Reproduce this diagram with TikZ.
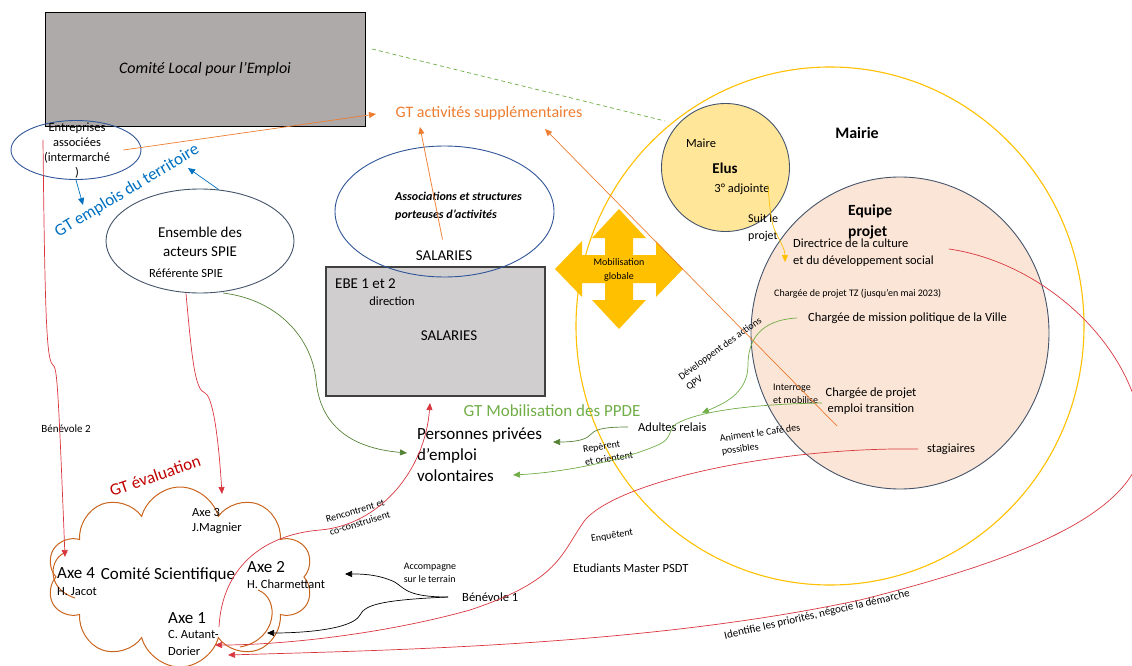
\documentclass[tikz,border=0pt]{standalone}
\usepackage{fontspec}
\setmainfont{Carlito}
\usetikzlibrary{shapes.geometric,shapes.symbols,arrows.meta}

\definecolor{griscle}{HTML}{AEAAAA}
\definecolor{grisebe}{HTML}{D0CECE}
\definecolor{grisfonce}{HTML}{404040}
\definecolor{bleuell}{HTML}{2F5597}
\definecolor{ardoise}{HTML}{44546A}
\definecolor{bleugt}{HTML}{0070C0}
\definecolor{orgt}{HTML}{ED7D31}
\definecolor{vert}{HTML}{70AD47}
\definecolor{vertfonce}{HTML}{548235}
\definecolor{jaune}{HTML}{FFC000}
\definecolor{elusfond}{HTML}{FFE699}
\definecolor{equipefond}{HTML}{FBE5D6}
\definecolor{rouge}{HTML}{D9363E}
\definecolor{rougefonce}{HTML}{C00000}
\definecolor{nuage}{HTML}{C9651E}

\begin{document}
\begin{tikzpicture}[x=1pt,y=-1pt,inner sep=0pt,
    >={Triangle[length=7pt,width=6pt]},
    lien/.style={line width=0.7pt},
    f17/.style={font=\fontsize{17}{21}\selectfont},
    f16/.style={font=\fontsize{16}{19}\selectfont},
    f15/.style={font=\fontsize{15}{19}\selectfont},
    f12/.style={font=\fontsize{12.5}{16}\selectfont},
    f11/.style={font=\fontsize{11}{13.5}\selectfont},
    f10/.style={font=\fontsize{10}{13}\selectfont}]
          %\draw[very thin,lightgray] (0,0) grid (1132,666);
          \useasboundingbox (0,0) rectangle (1132,666);

          % Mairie et ses cercles
          \node[ellipse,draw=jaune,line width=1.1pt,minimum width=508pt,minimum height=518pt] (mairie) at (830,326) {};
          \node[ellipse,draw=ardoise,fill=equipefond,line width=0.9pt,minimum width=298pt,minimum height=312pt] (equipe) at (900,333) {};
          \node[circle,draw=ardoise,fill=elusfond,line width=0.9pt,minimum size=128pt] (elus) at (725.5,167.5) {};
          \node[f16] (mairietxt) at (857,133) {\bfseries Mairie};

          % boites et ellipses a gauche
          \node[draw=black,fill=griscle,line width=0.9pt,minimum width=320pt,minimum height=114pt,
            font=\fontsize{16}{19}\selectfont\itshape] (cle) at (205,69) {Comité Local pour l’Emploi};
          \node[draw=grisfonce,fill=grisebe,line width=1.1pt,minimum width=219pt,minimum height=129pt] (ebe) at (435.5,331.5) {};
          \node[ellipse,draw=bleuell,line width=0.9pt,minimum width=130pt,minimum height=59pt] (ent) at (76,150) {};
          \node[ellipse,draw=ardoise,line width=0.9pt,minimum width=188pt,minimum height=104pt] (ens) at (200,241) {};
          \node[ellipse,draw=bleuell,line width=0.9pt,minimum width=219pt,minimum height=131pt] (asso) at (444.5,211.5) {};

          % fleche Mobilisation globale
          \fill[jaune,shift={(619,269)}] (0,-60)--(27,-31)--(14,-31)--(14,-14)--(37,-14)--(37,-28)--(64,0)
            --(37,28)--(37,14)--(14,14)--(14,31)--(27,31)--(0,60)--(-27,31)--(-14,31)--(-14,14)
            --(-37,14)--(-37,28)--(-64,0)--(-37,-28)--(-37,-14)--(-14,-14)--(-14,-31)--(-27,-31)--cycle;
          \node[font=\fontsize{10}{14}\selectfont,align=center] (mobtxt) at (619,270) {Mobilisation\\globale};

          % Comite scientifique
          \node[cloud,draw=nuage,line width=1pt,cloud puffs=10,aspect=1.5,
            minimum width=266pt,minimum height=180pt] (cs) at (180,577) {};
          \draw[nuage,line width=1pt] (67,552) .. controls (50,556) and (44,588) .. (75,598);
          \draw[nuage,line width=1pt] (258,590) .. controls (280,598) and (278,640) .. (240,647);
          \node[f17] (cstxt) at (168,575) {Comité Scientifique};
          \node[f17,anchor=west] (axe4) at (57,573) {Axe 4};
          \node[f12,anchor=west] (jacot) at (57,592) {H. Jacot};
          \node[f12,anchor=west] (axe3) at (192,512) {Axe 3};
          \node[f12,anchor=west] (magnier) at (192,528) {J.Magnier};
          \node[f17,anchor=west] (axe2) at (247,567) {Axe 2};
          \node[f12,anchor=west] (charm) at (247,584) {H. Charmettant};
          \node[f17,anchor=west] (axe1) at (168,618) {Axe 1};
          \node[f12,anchor=west,align=left,font=\fontsize{12.5}{17}\selectfont] (autant) at (168,643) {C. Autant-\\Dorier};
          \node[f17,text=rougefonce,rotate=19] (gteval) at (155,476) {GT évaluation};

          % textes
          \node[f12,align=center,font=\fontsize{12.5}{15}\selectfont] (enttxt) at (77,151) {Entreprises\\associées\\(intermarché\\)};
          \node[f17,text=bleugt,rotate=31] (gtemp) at (127,191) {GT emplois du territoire};
          \node[f16,text=orgt] (gtact) at (489,113) {GT activités supplémentaires};
          \node[f15,align=center] (enstxt) at (200,242) {Ensemble des\\acteurs SPIE};
          \node[f12] (referente) at (186,273) {Référente SPIE};
          \node[font=\fontsize{12}{18}\selectfont\bfseries\itshape,align=left,anchor=west] (assotxt) at (395,206)
            {Associations et structures\\porteuses d’activités};
          \node[f15] (salasso) at (444,256) {SALARIES};
          \node[f15,anchor=west] (ebetxt) at (335,284) {EBE 1 et 2};
          \node[f12] (direction) at (392,301) {direction};
          \node[f15] (salebe) at (449,336) {SALARIES};
          \node[f17,text=vert] (gtppde) at (552,411) {GT Mobilisation des PPDE};
          \node[f17,align=left,anchor=west] (pers) at (417,455) {Personnes privées\\d’emploi\\volontaires};
          \node[f12] (maire) at (701,143) {Maire};
          \node[font=\fontsize{15}{18}\selectfont\bfseries] (elustxt) at (725,168) {Elus};
          \node[f12] (adjointe) at (742,189) {3° adjointe};
          \node[font=\fontsize{12}{17}\selectfont,align=left,anchor=west] (suit) at (748,228) {Suit le\\projet};
          \node[font=\fontsize{15.5}{21}\selectfont\bfseries,align=left,anchor=west] (equipetxt) at (848,222) {Equipe\\projet};
          \node[font=\fontsize{12.5}{17}\selectfont,align=left,anchor=west] (directrice) at (793,253)
            {Directrice de la culture\\et du développement social};
          \node[f10,anchor=west] (tz) at (774,294) {Chargée de projet TZ (jusqu’en mai 2023)};
          \node[f12,anchor=west] (mission) at (808,318) {Chargée de mission politique de la Ville};
          \node[f12,align=center] (cpet) at (871,401) {Chargée de projet\\emploi transition};
          \node[f10,align=left,anchor=west] (interroge) at (773,394) {Interroge\\et mobilise};
          \node[f12,anchor=west] (stag) at (927,449) {stagiaires};
          \node[f12,anchor=west] (adultes) at (638,427) {Adultes relais};
          \node[f12,anchor=west] (etud) at (573,568) {Etudiants Master PSDT};
          \node[f12,anchor=west] (ben1) at (462,597) {Bénévole 1};
          \node[f11] (ben2) at (66,429) {Bénévole 2};

          % libelles des liens
          \node[f10,align=left,rotate=36] (qpv) at (724,354) {Développent des actions\\QPV};
          \node[f10,align=left,rotate=9] (repere) at (608,452) {Repèrent\\et orientent};
          \node[f10,align=left,rotate=8] (cafe) at (761,440) {Animent le Café des\\possibles};
          \node[f10,rotate=9] (enquete) at (612,536) {Enquêtent};
          \node[f10,align=left,rotate=17] (rencontre) at (358,517) {Rencontrent et\\co-construisent};
          \node[f10,align=left] (accomp) at (430,573) {Accompagne\\sur le terrain};
          \node[f11,rotate=13] (identifie) at (817,615) {Identifie les priorités, négocie la démarche};

          % points d'arrivee
          \coordinate (pEmp1) at (83,205);
          \coordinate (pEmp2) at (188,168);
          \coordinate (pAct1) at (376,114);
          \coordinate (pAct2) at (420,127);
          \coordinate (pAct3) at (545,129);
          \coordinate (pCle) at (372,49);
          \coordinate (pMairie) at (665,121);
          \coordinate (pPers1) at (407,453);
          \coordinate (pPers2) at (553,442);
          \coordinate (pPers3) at (513,475);
          \coordinate (pPers4) at (430,403);
          \coordinate (pRelais) at (702,413);
          \coordinate (pAxe4) at (65,557);
          \coordinate (pAxe3) at (222,494);
          \coordinate (pAxe2) at (345,574);
          \coordinate (pAxe1a) at (267,633);
          \coordinate (pAxe1b) at (215,645);
          \coordinate (pAxe1c) at (228,655);
          \coordinate (pAxe1d) at (219,627);
          \coordinate (pDir) at (785,262);

          % liens bleus et orange
          \draw[->,bleugt,lien] (ent.south) -- (pEmp1);
          \draw[->,bleugt,lien] (ens.70) -- (pEmp2);
          \draw[->,orgt,lien] ([xshift=-18pt]ent.east) -- (pAct1);
          \draw[->,orgt,lien] ([xshift=-2pt,yshift=-28pt]asso.center) -- (pAct2);
          \draw[->,orgt,lien] ([xshift=-34pt,yshift=-25pt]cpet.center) -- (pAct3);
          \draw[vert,lien,dash pattern=on 4pt off 3pt] (pCle) -- (pMairie);

          % liens verts
          \draw[->,vertfonce,lien] ([xshift=23pt,yshift=-52pt]ens.center) .. controls (280,300) and (312,340) .. (316,380)
            .. controls (320,425) and (350,448) .. (pPers1);
          \draw[->,vertfonce,lien] ([xshift=-10pt]adultes.west) .. controls (600,427) and (595,430) .. (590,435)
            .. controls (585,441) and (570,442) .. (pPers2);
          \draw[->,vert,lien] ([xshift=-49pt,yshift=-2pt]cpet.center) .. controls (760,404) and (700,410) .. (676,424)
            .. controls (668,430) and (672,438) .. (660,444) .. controls (630,458) and (570,472) .. (pPers3);
          \draw[->,vert,lien] ([xshift=-11pt]mission.west) .. controls (760,320) and (748,340) .. (748,365)
            .. controls (748,395) and (720,405) .. (pRelais);

          % lien jaune
          \draw[->,jaune,lien] ([xshift=26pt,yshift=4pt]adjointe.center) .. controls (770,215) and (772,225) .. (776,233)
            .. controls (782,245) and (785,250) .. (pDir);

          % liens rouges
          \draw[->,rouge,lien] ([xshift=-33pt,yshift=10pt]ent.center) .. controls (45,330) and (47,360) .. (53,365)
            .. controls (57,368) and (58,380) .. (pAxe4);
          \draw[->,rouge,lien] (ens.south -| referente.center) .. controls (192,360) and (195,390) .. (205,393)
            .. controls (212,396) and (218,430) .. (pAxe3);
          \draw[->,rouge,lien] (pAxe1d) .. controls (222,570) and (260,535) .. (320,530)
            .. controls (380,525) and (425,470) .. (pPers4);
          \draw[->,rouge,lien] ([xshift=-9pt]stag.west) .. controls (780,447) and (620,480) .. (585,520)
            .. controls (560,555) and (560,580) .. (470,610) .. controls (380,635) and (280,645) .. (pAxe1b);
          \draw[->,rouge,lien] ([xshift=15pt,yshift=4pt]directrice.east) .. controls (1040,262) and (1130,340) .. (1142,430)
            .. controls (1152,510) and (1020,560) .. (860,600) .. controls (650,645) and (400,650) .. (pAxe1c);

          % liens noirs
          \draw[->,black,lien] ([xshift=-14pt]ben1.west) .. controls (400,597) and (405,585) .. (390,580)
            .. controls (375,574) and (360,574) .. (pAxe2);
          \draw[->,black,lien] ([xshift=-14pt]ben1.west) .. controls (380,600) and (365,605) .. (360,615)
            .. controls (352,630) and (300,633) .. (pAxe1a);
\end{tikzpicture}
\end{document}
